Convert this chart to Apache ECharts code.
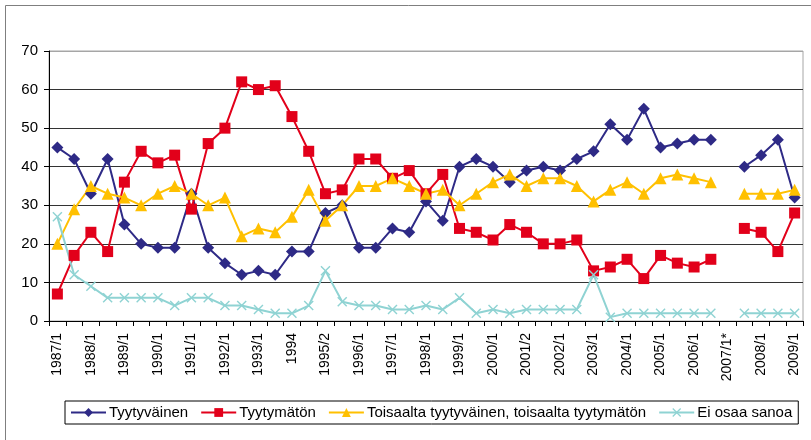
<!DOCTYPE html>
<html><head><meta charset="utf-8">
<script src="https://cdn.jsdelivr.net/npm/echarts@6/dist/echarts.min.js"></script>
<style>html,body{margin:0;padding:0;background:#fff}#c{width:811px;height:440px}</style>
</head><body><div id="c"></div>
<script>
var categories = ["1987/1","1987/2","1988/1","1988/2","1989/1","1989/2","1990/1","1990/2","1991/1","1991/2","1992/1","1992/2","1993/1","1993/2","1994","1995/1","1995/2","1995/3","1996/1","1996/2","1997/1","1997/2","1998/1","1998/2","1999/1","1999/2","2000/1","2001/1","2001/2","2001/3","2002/1","2002/2","2003/1","2003/2","2004/1","2004/2","2005/1","2005/2","2006/1","2006/2","2007/1*","2007/2","2008/1","2008/2","2009/1"];
var tyytyvainen = [45,42,33,42,25,20,19,19,33,19,15,12,13,12,18,18,28,30,19,19,24,23,31,26,40,42,40,36,39,40,39,42,44,51,47,55,45,46,47,47,null,40,43,47,32];
var tyytymaton = [7,17,23,18,36,44,41,43,29,46,50,62,60,61,53,44,33,34,42,42,37,39,33,38,24,23,21,25,23,20,20,21,13,14,16,11,17,15,14,16,null,24,23,18,28];
var toisaalta = [20,29,35,33,32,30,33,35,33,30,32,22,24,23,27,34,26,30,35,35,37,35,33,34,30,33,36,38,35,37,37,35,31,34,36,33,37,38,37,36,null,33,33,33,34];
var eiOsaa = [27,12,9,6,6,6,6,4,6,6,4,4,3,2,2,4,13,5,4,4,3,3,4,3,6,2,3,2,3,3,3,3,12,1,2,2,2,2,2,2,null,2,2,2,2];
var seriesNames = ["Tyytyväinen","Tyytymätön","Toisaalta tyytyväinen, toisaalta tyytymätön","Ei osaa sanoa"];
var yTicks = [0,10,20,30,40,50,60,70];

var FONT = "Liberation Sans, Arial, sans-serif";
var crossPath = 'path://M0,1L1,0L5,4L9,0L10,1L6,5L10,9L9,10L5,6L1,10L0,9L4,5Z';
var chart = echarts.init(document.getElementById('c'), null, {renderer:'canvas'});
function mk(name, data, color, symbol, size){
  return {name:name, type:'line', data:data, symbol:symbol, symbolSize:size,
    showAllSymbol:true, connectNulls:false, animation:false,
    lineStyle:{color:color, width:2}, itemStyle:{color:color, borderWidth:0},
    emphasis:{disabled:true}};
}
chart.setOption({
  animation:false,
  graphic:[{type:'rect', shape:{x:5.5,y:5.5,width:900,height:500}, style:{fill:'none', stroke:'#7f7f7f', lineWidth:1}, silent:true, z:-1}],
  grid:{left:49, top:51, right:8, bottom:119, show:true, borderColor:'#a6a6a6', borderWidth:1},
  legend:{left:65, top:401, padding:[4,6,4,5], itemGap:12, itemWidth:35, itemHeight:11,
    borderColor:'#000', borderWidth:1, backgroundColor:'#fff',
    textStyle:{fontFamily:FONT, fontSize:15, color:'#000', padding:[0,0,0,-2]},
    data:seriesNames},
  xAxis:{type:'category', data:categories, boundaryGap:true,
    axisLine:{lineStyle:{color:'#000', width:1}},
    axisTick:{show:true, interval:0, length:5, lineStyle:{color:'#000'}},
    axisLabel:{interval:function(i){return i%2===0;}, rotate:90, margin:12, fontFamily:FONT, fontSize:14, color:'#000'},
    splitLine:{show:false}},
  yAxis:{type:'value', min:0, max:70, interval:10,
    axisLine:{show:true, lineStyle:{color:'#000', width:1}},
    axisTick:{show:true, length:5, lineStyle:{color:'#000'}},
    axisLabel:{margin:11, fontFamily:FONT, fontSize:15, color:'#000', formatter:function(v){return yTicks.indexOf(v)>=0?String(v):'';}},
    splitLine:{show:true, lineStyle:{color:['#000','#333','#333','#333','#333','#333','#333','#a6a6a6'], width:1}}},
  series:[
    mk(seriesNames[0], tyytyvainen, '#2E2A86', 'diamond', 12),
    mk(seriesNames[1], tyytymaton, '#E2001A', 'rect', 11),
    mk(seriesNames[2], toisaalta, '#FFC000', 'triangle', 12),
    mk(seriesNames[3], eiOsaa, '#8FD3D3', crossPath, 10)
  ]
});
</script></body></html>
